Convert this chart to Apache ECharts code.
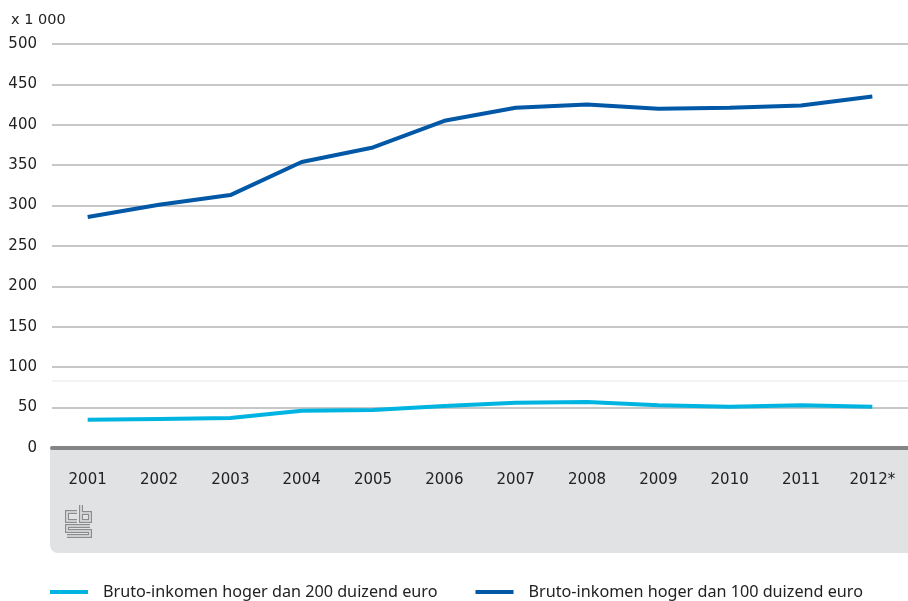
<!DOCTYPE html>
<html>
<head>
<meta charset="utf-8">
<script src="https://cdn.jsdelivr.net/npm/echarts@6/dist/echarts.min.js"></script>
<style>
html, body { margin: 0; padding: 0; background: #fff; }
#chart { width: 908px; height: 601px; }
</style>
</head>
<body>
<div id="chart"></div>
<script>
var years = ['2001', '2002', '2003', '2004', '2005', '2006', '2007', '2008', '2009', '2010', '2011', '2012*'];
var boven200 = [35, 36, 37, 46, 47, 52, 56, 57, 53, 51, 53, 51];
var boven100 = [286, 301, 313, 354, 372, 405, 421, 425, 420, 421, 424, 435];
var naam200 = 'Bruto-inkomen hoger dan 200 duizend euro';
var naam100 = 'Bruto-inkomen hoger dan 100 duizend euro';

var myChart = echarts.init(document.getElementById('chart'));
var font = 'DejaVu Sans';

// cbs logo, dubbele lijn
var logo = [
	[[77, 512], [67, 512], [67, 521], [77, 521]],
	[[81, 505], [81, 521], [90, 521], [90, 513], [81, 513]],
	[[90, 526], [67, 526], [67, 531], [90, 531], [90, 536], [67, 536]]
];
var logoParts = [];
logo.forEach(function(p) {
	logoParts.push({ type: 'polyline', z: 1, shape: { points: p }, style: { stroke: '#8c8c8c', lineWidth: 4, fill: null } });
	logoParts.push({ type: 'polyline', z: 2, shape: { points: p }, style: { stroke: '#e1e2e4', lineWidth: 1.6, fill: null } });
});

var option = {
	animation: false,
	textStyle: { fontFamily: font },
	title: {
		text: 'x 1 000',
		left: 6,
		top: 8,
		textStyle: { fontSize: 14.5, fontWeight: 'normal', color: '#222', fontFamily: font }
	},
	graphic: [{
		type: 'rect',
		z: -10,
		shape: { x: 50, y: 448, width: 870, height: 105, r: [0, 0, 0, 8] },
		style: { fill: '#e1e2e4' }
	}].concat(logoParts),
	legend: {
		left: 50,
		bottom: 1,
		padding: 0,
		icon: 'rect',
		itemWidth: 38,
		itemHeight: 4,
		itemGap: 38,
		textStyle: { fontSize: 16.2, color: '#222', fontFamily: 'Noto Sans', padding: [0, 0, 0, 10] },
		data: [naam200, naam100]
	},
	grid: {
		left: 52,
		right: 0,
		top: 44,
		bottom: 153,
		containLabel: false
	},
	xAxis: {
		type: 'category',
		data: years,
		boundaryGap: true,
		axisLine: { lineStyle: { color: '#858585', width: 4 } },
		axisTick: { alignWithLabel: true, length: 9, lineStyle: { color: '#999' } },
		axisLabel: { fontSize: 15, color: '#222', margin: 25 }
	},
	yAxis: {
		type: 'value',
		min: 0,
		max: 500,
		interval: 50,
		axisLine: { show: false },
		axisTick: { show: false },
		splitLine: { lineStyle: { color: '#b4b4b4', width: 1.5 } },
		axisLabel: { fontSize: 15, color: '#222', margin: 15 }
	},
	series: [{
		name: naam200,
		type: 'line',
		data: boven200,
		symbol: 'none',
		color: '#00b4e1',
		lineStyle: { width: 4 },
		markLine: {
			silent: true,
			symbol: 'none',
			label: { show: false },
			lineStyle: { color: '#efefef', width: 1.5, type: 'solid' },
			data: [{ yAxis: 83 }]
		}
	}, {
		name: naam100,
		type: 'line',
		data: boven100,
		symbol: 'none',
		color: '#0058a6',
		lineStyle: { width: 4 }
	}]
};
myChart.setOption(option);
</script>
</body>
</html>
